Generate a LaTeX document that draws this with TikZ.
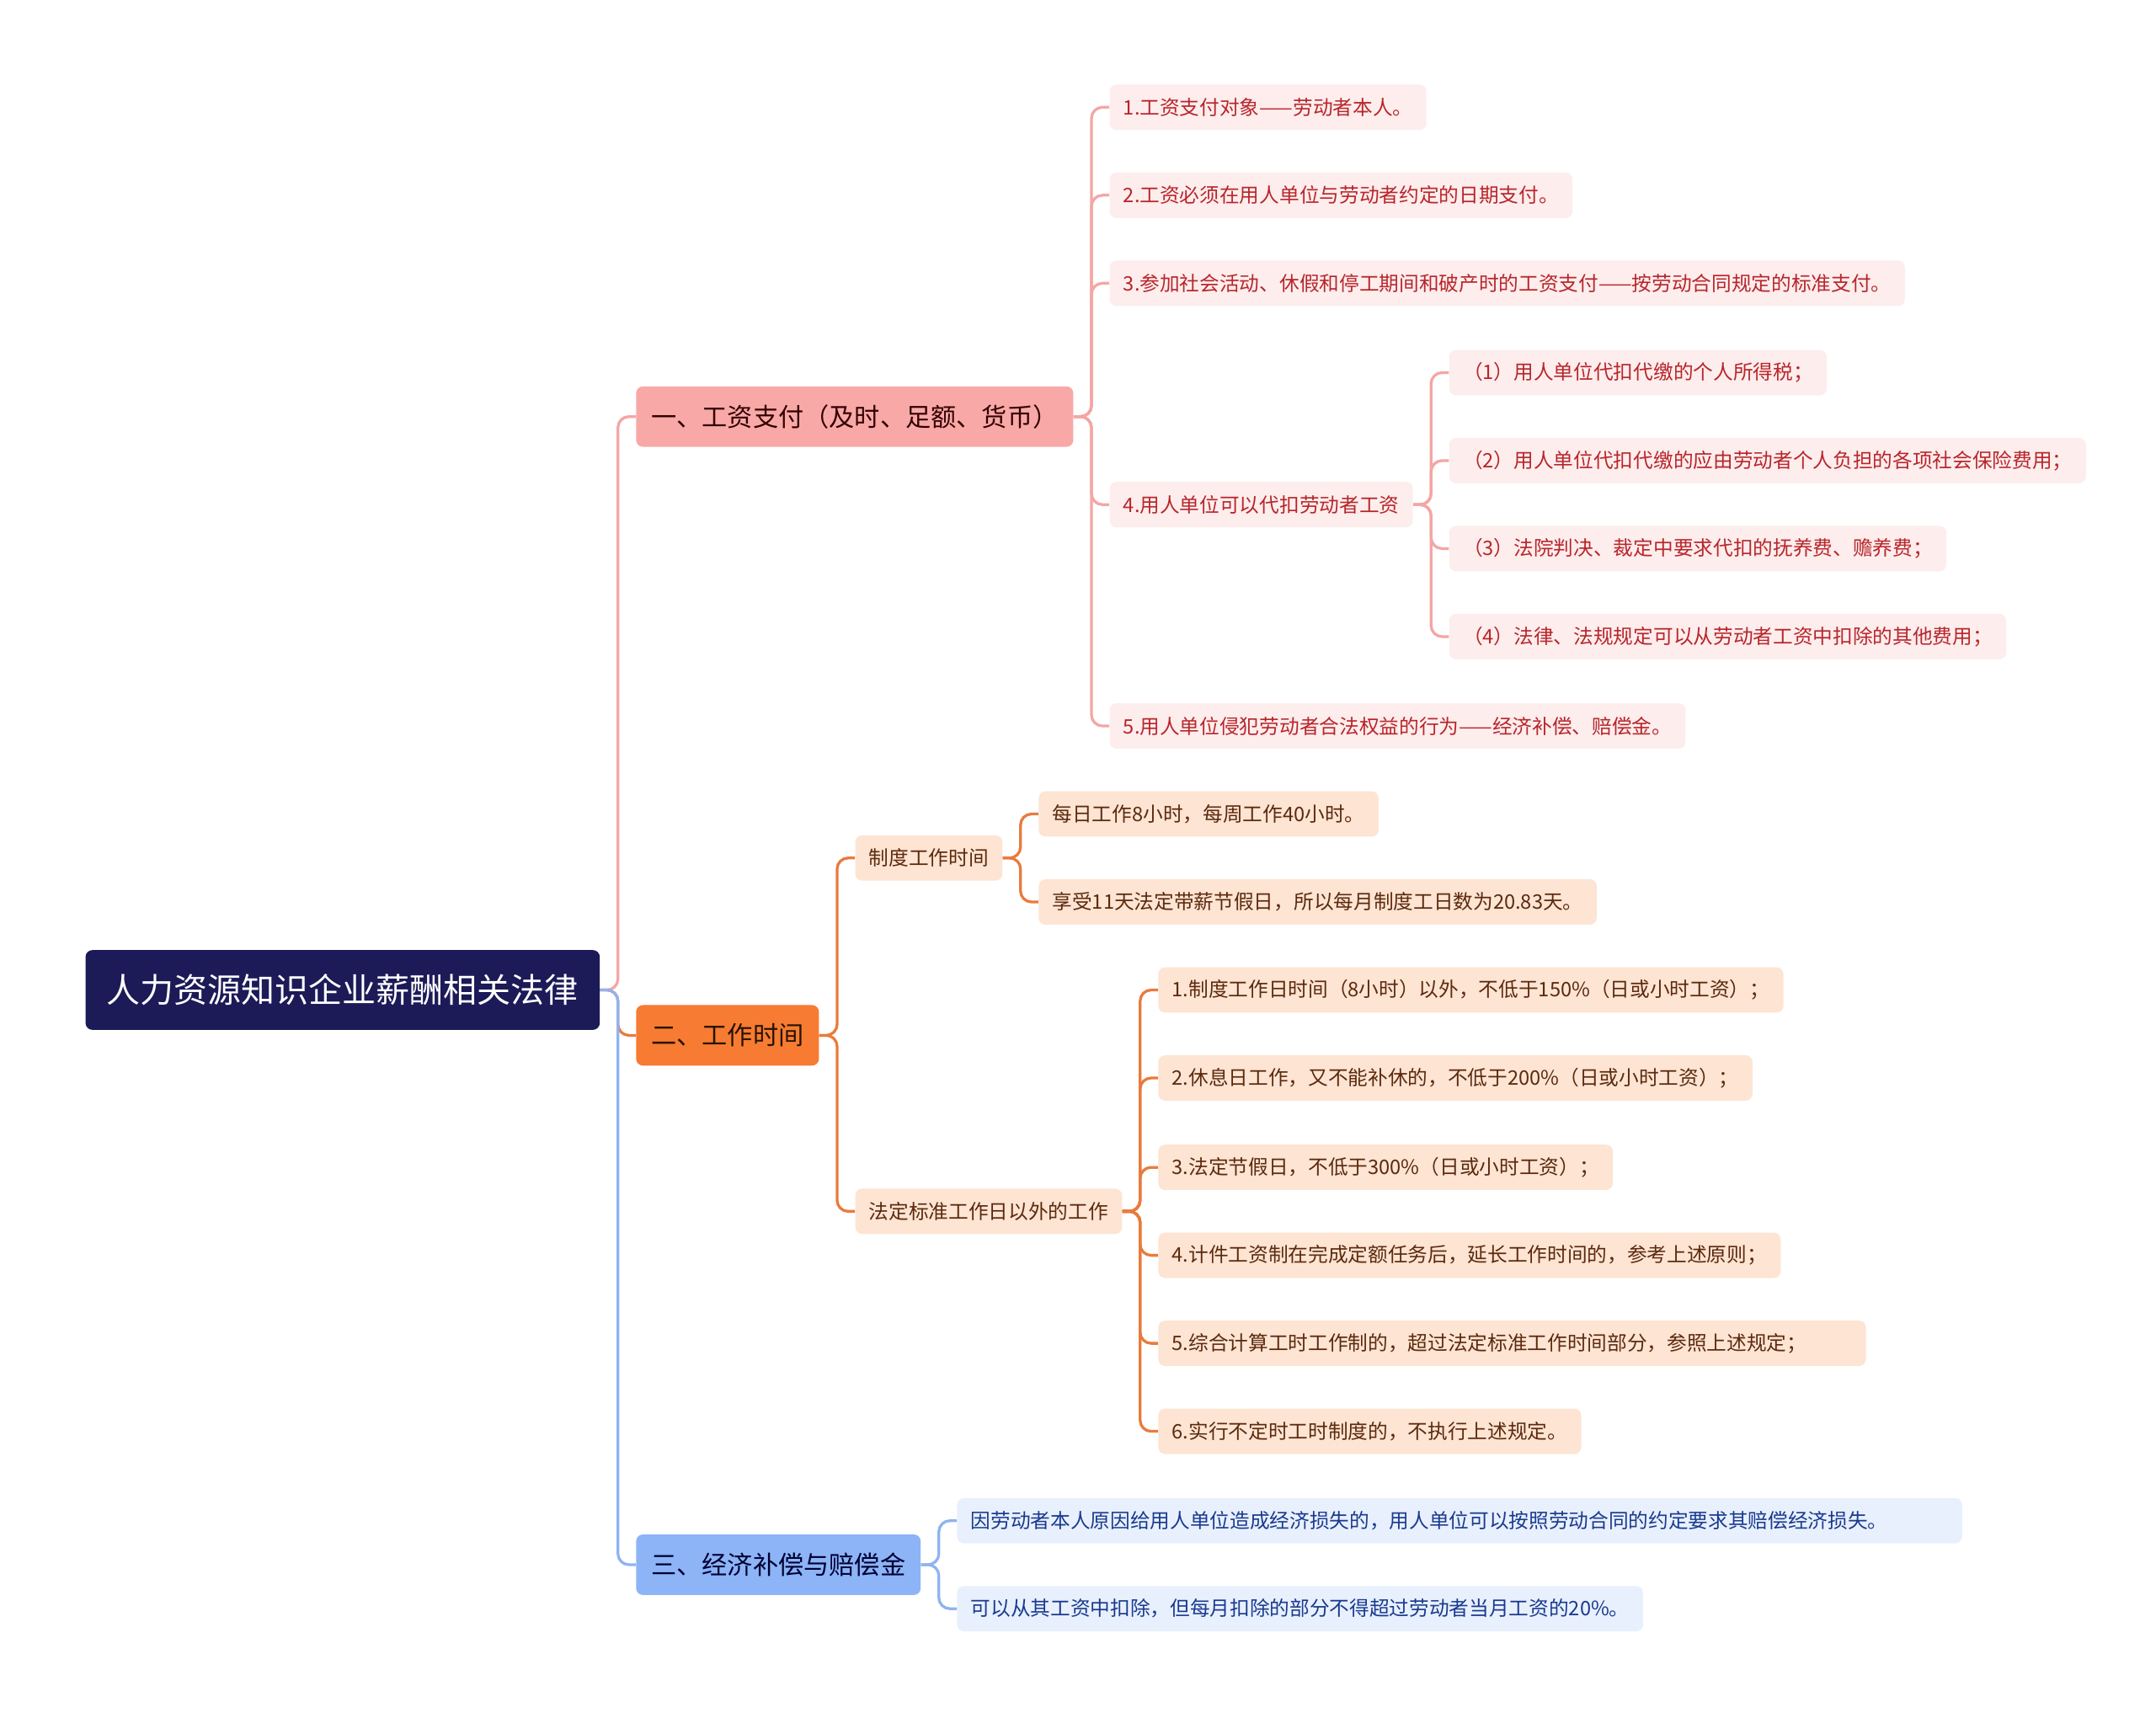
\documentclass[tikz,border=0pt]{standalone}
\usepackage{fontspec}
\setmainfont{Noto Sans CJK SC}
\usetikzlibrary{positioning,backgrounds}
\definecolor{rootfill}{HTML}{1C1A57}
\definecolor{payfill}{HTML}{F8A9A7}
\definecolor{paylite}{HTML}{FDEDED}
\definecolor{paytext}{HTML}{B8262B}
\definecolor{payline}{HTML}{F4A6A4}
\definecolor{timefill}{HTML}{F77B32}
\definecolor{timelite}{HTML}{FDE4D3}
\definecolor{timetext}{HTML}{5C2A0E}
\definecolor{timeline}{HTML}{E97B3C}
\definecolor{compfill}{HTML}{8CB4F6}
\definecolor{complite}{HTML}{E8F0FD}
\definecolor{comptext}{HTML}{1A3A8F}
\definecolor{compline}{HTML}{8FB3F2}

\begin{document}
\begin{tikzpicture}[x=1pt, y=-1pt,
    box/.style={rounded corners=5pt, inner ysep=0pt},
    root/.style={box, fill=rootfill, text=white, minimum height=58pt,
                 inner xsep=15.5pt, font=\fontsize{24.5}{28}\selectfont},
    topic/.style={box, minimum height=44pt, inner xsep=11pt,
                  font=\fontsize{18.5}{22}\selectfont},
    item/.style={box, minimum height=33pt, inner xsep=10pt,
                 font=\fontsize{14.5}{17}\selectfont},
    paytopic/.style={topic, fill=payfill, text=black!80!red},
    timetopic/.style={topic, fill=timefill, text=black!85!orange},
    comptopic/.style={topic, fill=compfill, text=black!80!blue},
    payitem/.style={item, fill=paylite, text=paytext},
    timeitem/.style={item, fill=timelite, text=timetext},
    compitem/.style={item, fill=complite, text=comptext},
    link/.style={line width=2pt, rounded corners=8pt},
    paylink/.style={link, draw=payline},
    timelink/.style={link, draw=timeline},
    complink/.style={link, draw=compline}
  ]
  \useasboundingbox (0,0) rectangle (1568,1249);

  \node[root, anchor=west] (root) at (62,720) {人力资源知识企业薪酬相关法律};

  % first level
  \node[paytopic, right=26pt of root, yshift=417pt] (l1) {一、工资支付（及时、足额、货币）};
  \node[timetopic, right=26pt of root, yshift=-33pt] (l2) {二、工作时间};
  \node[comptopic, right=26pt of root, yshift=-418pt] (l3) {三、经济补偿与赔偿金};

  % wage payment
  \node[payitem, right=26pt of l1, yshift=225pt] (a1) {1.工资支付对象——劳动者本人。};
  \node[payitem, right=26pt of l1, yshift=161pt] (a2) {2.工资必须在用人单位与劳动者约定的日期支付。};
  \node[payitem, right=26pt of l1, yshift=97pt] (a3) {3.参加社会活动、休假和停工期间和破产时的工资支付——按劳动合同规定的标准支付。};
  \node[payitem, right=26pt of l1, yshift=-64pt] (a4) {4.用人单位可以代扣劳动者工资};
  \node[payitem, right=26pt of l1, yshift=-225pt] (a5) {5.用人单位侵犯劳动者合法权益的行为——经济补偿、赔偿金。};

  \node[payitem, right=26pt of a4, yshift=96pt] (b1) {（1）用人单位代扣代缴的个人所得税；};
  \node[payitem, right=26pt of a4, yshift=32pt] (b2) {（2）用人单位代扣代缴的应由劳动者个人负担的各项社会保险费用；};
  \node[payitem, right=26pt of a4, yshift=-32pt] (b3) {（3）法院判决、裁定中要求代扣的抚养费、赡养费；};
  \node[payitem, right=26pt of a4, yshift=-96pt] (b4) {（4）法律、法规规定可以从劳动者工资中扣除的其他费用；};

  % working time
  \node[timeitem, right=26pt of l2, yshift=129pt] (c1) {制度工作时间};
  \node[timeitem, right=26pt of l2, yshift=-128pt] (c2) {法定标准工作日以外的工作};

  \node[timeitem, right=26pt of c1, yshift=32pt] (d1) {每日工作8小时，每周工作40小时。};
  \node[timeitem, right=26pt of c1, yshift=-32pt] (d2) {享受11天法定带薪节假日，所以每月制度工日数为20.83天。};

  \node[timeitem, right=26pt of c2, yshift=161pt] (e1) {1.制度工作日时间（8小时）以外，不低于150\%（日或小时工资）；};
  \node[timeitem, right=26pt of c2, yshift=97pt] (e2) {2.休息日工作，又不能补休的，不低于200\%（日或小时工资）；};
  \node[timeitem, right=26pt of c2, yshift=32pt] (e3) {3.法定节假日，不低于300\%（日或小时工资）；};
  \node[timeitem, right=26pt of c2, yshift=-32pt] (e4) {4.计件工资制在完成定额任务后，延长工作时间的，参考上述原则；};
  \node[timeitem, right=26pt of c2, yshift=-96pt] (e5) {5.综合计算工时工作制的，超过法定标准工作时间部分，参照上述规定；\hspace*{33pt}};
  \node[timeitem, right=26pt of c2, yshift=-160pt] (e6) {6.实行不定时工时制度的，不执行上述规定。};

  % compensation
  \node[compitem, right=26pt of l3, yshift=32pt] (f1) {因劳动者本人原因给用人单位造成经济损失的，用人单位可以按照劳动合同的约定要求其赔偿经济损失。\hspace*{44pt}};
  \node[compitem, right=26pt of l3, yshift=-32pt] (f2) {可以从其工资中扣除，但每月扣除的部分不得超过劳动者当月工资的20\%。};

  \begin{scope}[on background layer]
    \fill[white] (0,0) rectangle (1568,1249);
    \draw[paylink]  (root.east) -- ++(13,0) |- (l1.west);
    \draw[timelink] (root.east) -- ++(13,0) |- (l2.west);
    \draw[complink] (root.east) -- ++(13,0) |- (l3.west);
    \foreach \c in {a1,a2,a3,a4,a5}
      \draw[paylink] (l1.east) -- ++(13,0) |- (\c.west);
    \foreach \c in {b1,b2,b3,b4}
      \draw[paylink] (a4.east) -- ++(13,0) |- (\c.west);
    \foreach \c in {c1,c2}
      \draw[timelink] (l2.east) -- ++(13,0) |- (\c.west);
    \foreach \c in {d1,d2}
      \draw[timelink] (c1.east) -- ++(13,0) |- (\c.west);
    \foreach \c in {e1,e2,e3,e4,e5,e6}
      \draw[timelink] (c2.east) -- ++(13,0) |- (\c.west);
    \foreach \c in {f1,f2}
      \draw[complink] (l3.east) -- ++(13,0) |- (\c.west);
  \end{scope}
\end{tikzpicture}
\end{document}
